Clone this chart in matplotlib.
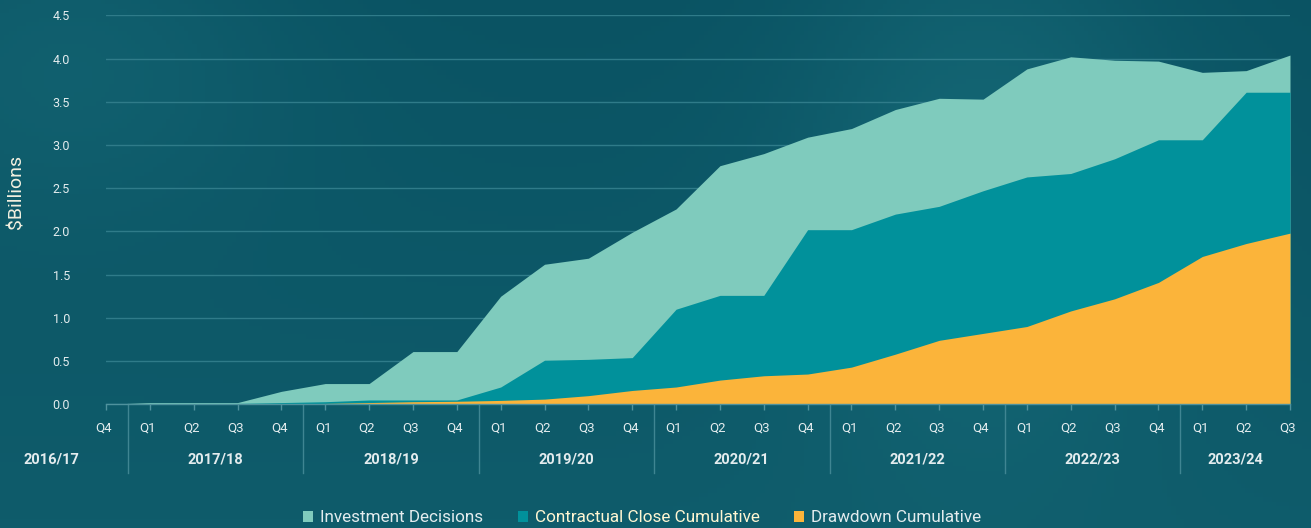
from __future__ import annotations

import numpy as np
import matplotlib

matplotlib.use("Agg")
import matplotlib.pyplot as plt
from matplotlib.patches import Patch


QUARTERS = ["Q4"] + ["Q1", "Q2", "Q3", "Q4"] * 6 + ["Q1", "Q2", "Q3"]
YEARS = ["2016/17", "2017/18", "2018/19", "2019/20", "2020/21",
         "2021/22", "2022/23", "2023/24"]

investment_decisions = [
    0.00, 0.02, 0.02, 0.02, 0.15,
    0.24, 0.24, 0.61, 0.61,
    1.25, 1.62, 1.69, 1.99,
    2.26, 2.76, 2.90, 3.09,
    3.19, 3.41, 3.54, 3.53,
    3.88, 4.02, 3.98, 3.97,
    3.84, 3.86, 4.04,
]
contractual_close = [
    0.00, 0.01, 0.01, 0.01, 0.02,
    0.03, 0.05, 0.05, 0.05,
    0.20, 0.51, 0.52, 0.54,
    1.10, 1.26, 1.26, 2.02,
    2.02, 2.20, 2.29, 2.47,
    2.63, 2.67, 2.84, 3.06,
    3.06, 3.61, 3.61,
]
drawdown = [
    0.00, 0.005, 0.005, 0.005, 0.005,
    0.01, 0.02, 0.03, 0.035,
    0.045, 0.06, 0.10, 0.16,
    0.20, 0.28, 0.33, 0.35,
    0.43, 0.58, 0.74, 0.82,
    0.90, 1.08, 1.22, 1.41,
    1.71, 1.86, 1.98,
]

BG = "#0c5868"
C_INV = "#7fcbbd"
C_CC = "#01919b"
C_DD = "#fbb43a"
TXT = "#e3ecee"
LINE = "#2f7b89"

plt.rcParams["font.family"] = ["Roboto", "DejaVu Sans"]

W, H = 1311, 528
fig = plt.figure(figsize=(W / 100, H / 100), dpi=100)
fig.patch.set_facecolor(BG)

# soft background shading
bg_ax = fig.add_axes([0, 0, 1, 1], zorder=-10)
gx, gy = np.meshgrid(np.linspace(0, 1, 300), np.linspace(0, 1, 120))
shade = (0.35 * np.exp(-((gx - 0.75) ** 2 / 0.02 + (gy - 0.3) ** 2 / 0.3))
         + 0.25 * np.exp(-((gx - 0.05) ** 2 / 0.03 + (gy - 0.1) ** 2 / 0.1))
         + 0.2 * gy)
base = np.array([0x0a, 0x53, 0x63]) / 255
hi = np.array([0x14, 0x66, 0x74]) / 255
img = base + (hi - base) * shade[..., None] / shade.max()
bg_ax.imshow(img, aspect="auto", extent=[0, 1, 0, 1], origin="upper")
bg_ax.axis("off")

left, right = 106 / W, 1290 / W
bottom, top = (H - 404.3) / H, (H - 15.3) / H
ax = fig.add_axes([left, bottom, right - left, top - bottom])
ax.set_facecolor("none")

x = np.arange(len(QUARTERS))
ax.fill_between(x, 0, investment_decisions, color=C_INV, lw=0, zorder=2)
ax.fill_between(x, 0, contractual_close, color=C_CC, lw=0, zorder=3)
ax.fill_between(x, 0, drawdown, color=C_DD, lw=0, zorder=4)

ax.set_xlim(0, len(QUARTERS) - 1)
ax.set_ylim(0, 4.5)
ax.set_yticks(np.arange(0, 4.51, 0.5))
ax.set_yticklabels([f"{v:.1f}" for v in np.arange(0, 4.51, 0.5)])
ax.grid(axis="y", color=LINE, lw=1.0, zorder=0)
ax.set_axisbelow(True)

for side in ["top", "right", "left"]:
    ax.spines[side].set_visible(False)
ax.spines["bottom"].set_color("#4f929d")
ax.spines["bottom"].set_linewidth(1.0)
ax.spines["bottom"].set_zorder(5)

ax.tick_params(axis="y", length=0, pad=26, labelsize=9, labelcolor=TXT)
ax.set_xticks(x)
ax.set_xticklabels([])
ax.tick_params(axis="x", length=4, width=1, color="#4f929d", direction="out")

tr = ax.get_xaxis_transform()
for i, q in enumerate(QUARTERS):
    ax.text(i - 0.05, -0.061, q, transform=tr, ha="center", va="center",
            fontsize=9.5, color=TXT, clip_on=False)

year_centers = [-1.25] + [2.5 + 4 * k for k in range(6)] + [25.75]
for cx, yr in zip(year_centers, YEARS):
    ax.text(cx, -0.143, yr, transform=tr, ha="center", va="center",
            fontsize=10.5, fontweight="bold", color=TXT, clip_on=False)

for k in range(7):
    sx = 0.5 + 4 * k
    ax.plot([sx, sx], [0, -0.177], transform=tr, color="#3f8592",
            lw=1.0, clip_on=False)

fig.text(17 / W, 1 - 192 / H, "$Billions", rotation=90, ha="center",
         va="center", fontsize=14, color="#f2f0e0")

handles = [
    Patch(facecolor=C_INV, edgecolor="none", label="Investment Decisions"),
    Patch(facecolor=C_CC, edgecolor="none", label="Contractual Close Cumulative"),
    Patch(facecolor=C_DD, edgecolor="none", label="Drawdown Cumulative"),
]
leg = fig.legend(handles=handles, loc="center", ncol=3,
                 bbox_to_anchor=(642 / W, (H - 518) / H), frameon=False,
                 fontsize=12.3, handlelength=0.6, handleheight=0.6,
                 handletextpad=0.4, columnspacing=2.0)
for i, t in enumerate(leg.get_texts()):
    t.set_color("#fff6d2" if i == 1 else TXT)

fig.savefig("out.png", dpi=100, facecolor=fig.get_facecolor())
